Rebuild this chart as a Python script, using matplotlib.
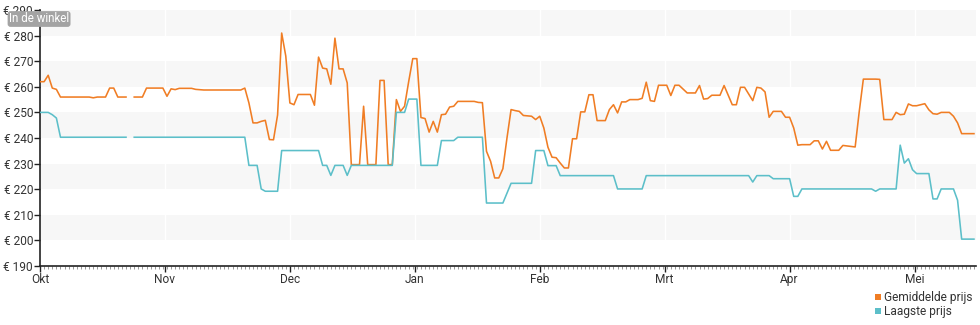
import numpy as np
import matplotlib
matplotlib.use("Agg")
import matplotlib.pyplot as plt
from matplotlib.patches import Rectangle

plt.rcParams['font.family'] = ['Roboto', 'DejaVu Sans']

# price history, (day since 1 Okt, price); nan = no data that day
avg_days = [0, 1, 2, 3, 4, 5, 12, 13, 14, 16, 17, 18, 19, 21, 22, 23, 25, 26, 30, 31,
            32, 33, 34, 37, 38, 40, 49, 50, 51, 52, 53, 54, 55, 56, 57, 58, 59, 60, 61, 62,
            63, 66, 67, 68, 69, 70, 71, 72, 73, 74, 75, 76, 78, 79, 80, 82, 83, 84, 85, 86,
            87, 88, 89, 90, 91, 92, 93, 94, 95, 96, 97, 98, 99, 100, 101, 102, 106, 107, 108, 109,
            110, 111, 112, 113, 114, 115, 116, 117, 118, 120, 121, 122, 123, 124, 125, 126, 127, 128, 129, 130,
            131, 132, 133, 134, 135, 136, 138, 139, 140, 141, 142, 143, 144, 146, 147, 148, 149, 150, 151, 153,
            154, 155, 156, 158, 160, 161, 162, 163, 164, 166, 167, 169, 170, 171, 172, 174, 175, 176, 177, 178,
            179, 181, 182, 183, 184, 185, 186, 188, 189, 190, 191, 192, 193, 195, 196, 199, 200, 201, 204, 205,
            206, 208, 209, 210, 211, 212, 213, 214, 216, 217, 218, 219, 220, 222, 223, 224, 225, 228]
avg_price = [262, 262, 264.5, 259.5, 259, 256, 256, 255.7, 256, 256, 259.5, 259.5, 256, 256, np.nan, 256, 256, 259.5, 259.5, 256.3,
             259.2, 258.9, 259.4, 259.4, 259, 258.75, 258.75, 259.5, 253.7, 245.9, 245.9, 246.5, 246.9, 239.4, 239.3, 249, 281, 272, 253.7, 253,
             257, 257, 252.8, 271.6, 267.3, 267, 261, 279, 267, 267, 261.5, 229.6, 229.6, 252.4, 229.6, 229.6, 262.5, 262.5, 229.6, 229.6,
             255, 250.4, 252.4, 262, 271, 271, 248, 247.6, 242.3, 246.5, 242.3, 249.1, 249.3, 252.1, 252.4, 254.3, 254.3, 253.9, 253.8, 234.8,
             230.9, 224.4, 224.4, 228, 240, 251.1, 250.7, 250.4, 248.8, 248.5, 247.2, 248.5, 243.9, 236.4, 232.5, 232.3, 230.2, 228.3, 228.3, 239.7,
             239.7, 250.2, 250.2, 256.9, 256.9, 246.8, 246.8, 251.1, 253, 249.8, 254.1, 254.1, 255, 255, 255.5, 261.8, 254.6, 254.3, 260.6, 260.6,
             256.6, 260.6, 260.6, 257.6, 257.6, 260.5, 255.2, 255.4, 256.7, 256.7, 260.5, 253, 253, 259.8, 259.8, 254.6, 259.8, 259.5, 258, 248.1,
             250.4, 250.4, 248.1, 248.1, 243.9, 237.2, 237.4, 237.4, 238.9, 238.9, 235.7, 238.7, 235.2, 235.2, 237.1, 236.5, 250.4, 263, 263, 262.9,
             247.2, 247.2, 250, 249.1, 249.3, 253.3, 252.6, 252.6, 253.4, 251, 249.5, 249.3, 250, 250, 248.5, 245.9, 241.7, 241.7]

low_days = [0, 2, 3, 4, 5, 21, 22, 23, 50, 51, 53, 54, 55, 58, 59, 68, 69, 70, 71, 72,
            74, 75, 76, 86, 87, 89, 90, 92, 93, 97, 98, 101, 102, 108, 109, 113, 115, 120, 121, 123,
            124, 126, 127, 140, 141, 147, 148, 173, 174, 175, 178, 179, 183, 184, 185, 186, 203, 204, 205, 209,
            210, 211, 212, 213, 214, 217, 218, 219, 220, 223, 224, 225, 228]
low_price = [250, 250, 249.1, 247.8, 240.3, 240.3, np.nan, 240.3, 240.3, 229.3, 229.3, 220.1, 219.2, 219.2, 235.1, 235.1, 229.3, 229.3, 225.4, 229.3,
             229.3, 225.4, 229.3, 229.3, 250, 250, 255.2, 255.2, 229.3, 229.3, 239, 239, 240.3, 240.3, 214.6, 214.6, 222.3, 222.3, 235.1, 235.1,
             229.2, 229.2, 225.3, 225.3, 220.1, 220.1, 225.3, 225.3, 222.8, 225.3, 225.3, 224.1, 224.1, 217.2, 217.2, 220.1, 220.1, 219.2, 220.1, 220.1,
             237.2, 230.2, 231.9, 227.6, 226.1, 226.1, 216.2, 216.2, 220.1, 220.1, 215.7, 200.5, 200.5]

months = ['Okt', 'Nov', 'Dec', 'Jan', 'Feb', 'Mrt', 'Apr', 'Mei']
month_len = 30.5
y_ticks = list(range(190, 291, 10))

orange = '#f07d24'
teal = '#5cbfc9'
txt = '#333333'

fig = plt.figure(figsize=(9.8, 3.25), dpi=100)
ax = fig.add_axes([40 / 980, 1 - 266 / 325, 936 / 980, 256 / 325])

# alternating horizontal bands
for lo in range(200, 290, 20):
    ax.axhspan(lo, lo + 10, color='#f7f7f7', lw=0, zorder=0)
month_pos = [i * month_len for i in range(len(months))]
for mp in month_pos[1:]:
    ax.axvline(mp, color='white', lw=1, zorder=0.5)

ax.plot(avg_days, avg_price, color=orange, lw=1.15, zorder=3)
ax.plot(low_days, low_price, color=teal, lw=1.15, zorder=3)

ax.set_xlim(0, 228.5)
ax.set_ylim(190, 290)
ax.set_yticks(y_ticks)
ax.set_yticklabels(['€ %d' % v for v in y_ticks], color=txt, fontsize=8.6)
ax.set_xticks(month_pos)
ax.set_xticklabels(months, color=txt, fontsize=8.6)
ax.set_xticks(np.arange(0, 229, 1), minor=True)
ax.tick_params(axis='x', which='major', length=4, width=1, pad=1, color='#222222')
ax.tick_params(axis='x', which='minor', length=2, width=0.6, color='#888888')
ax.tick_params(axis='y', length=4, width=1, pad=1, color='#222222')

for side in ['top', 'right']:
    ax.spines[side].set_visible(False)
for side in ['left', 'bottom']:
    ax.spines[side].set_color('#222222')
    ax.spines[side].set_linewidth(1.2)

# legend in the lower right corner
for i, (lab, col) in enumerate([('Gemiddelde prijs', orange), ('Laagste prijs', teal)]):
    yy = 1 - (297 + i * 14) / 325
    fig.patches.append(Rectangle((875 / 980, yy - 3 / 325), 6 / 980, 6 / 325,
                                 transform=fig.transFigure, color=col, lw=0))
    fig.text(884 / 980, yy, lab, color=txt, fontsize=8.6, va='center', ha='left')

fig.text(9 / 980, 1 - 19 / 325, 'In de winkel', color='white', fontsize=8.3,
         va='center', ha='left',
         bbox=dict(boxstyle='round,pad=0.12,rounding_size=0.25', fc='#a3a3a3', ec='none'))

fig.savefig('out.png', dpi=100)
